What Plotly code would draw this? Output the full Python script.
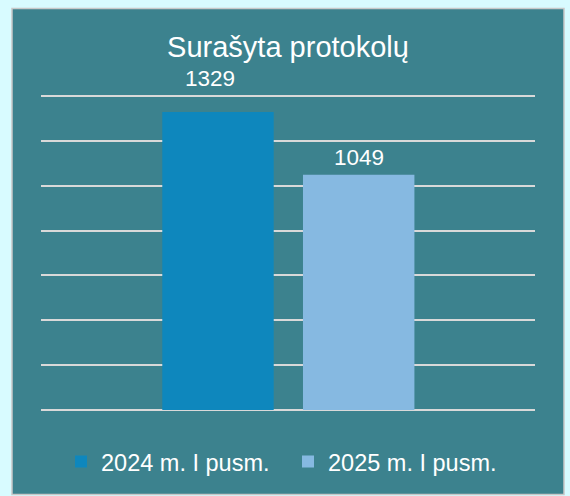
import plotly.graph_objects as go

categories = ["2024 m. I pusm.", "2025 m. I pusm."]
values = [1329, 1049]
colors = ["#0e87bd", "#86b9e1"]
title_text = "Surašyta protokolų"

W, H = 570, 496
L, R, T, B = 41, 35, 95, 83
pw, ph = W - L - R, H - T - B

fig = go.Figure()
for cat, val, col in zip(categories, values, colors):
    fig.add_trace(go.Bar(
        x=[cat], y=[val], name=cat, marker=dict(color=col, line=dict(width=0)),
        width=0.792, hoverinfo="skip",
    ))

label_shifts = [(-8, 19), (0, 3)]
for cat, val, (dx, dy) in zip(categories, values, label_shifts):
    fig.add_annotation(
        x=cat, y=val, text=str(val), showarrow=False, yanchor="bottom",
        xshift=dx, yshift=dy,
        font=dict(family="Liberation Sans, Arial, sans-serif", size=22.5, color="white"),
    )

# teal chart panel with thin grey frame
fig.add_shape(
    type="rect", xref="paper", yref="paper", layer="below",
    x0=(12 - L) / pw, x1=(564 - L) / pw,
    y0=(H - B - 497) / ph, y1=(H - B - 8) / ph,
    fillcolor="#3c828e", line=dict(color="#c8c8c8", width=1.5),
)

fig.update_layout(
    width=W, height=H,
    margin=dict(l=L, r=R, t=T, b=B, pad=0),
    paper_bgcolor="#d8fbff",
    plot_bgcolor="#3c828e",
    barmode="overlay",
    font=dict(family="Liberation Sans, Arial, sans-serif", color="white"),
    title=dict(
        text=title_text, x=0.5, xref="paper", xanchor="center",
        y=1 - 47.3 / H, yanchor="middle",
        font=dict(size=29, color="white"),
    ),
    xaxis=dict(
        type="category", categoryorder="array", categoryarray=categories,
        range=[-1.258, 2.253], showticklabels=False, showgrid=False,
        zeroline=False, showline=False, ticks="", fixedrange=True,
    ),
    yaxis=dict(
        range=[-5, 1405], dtick=200, tick0=0, showticklabels=False,
        showgrid=True, gridcolor="#d9d9d9", gridwidth=2,
        zeroline=False, showline=False, ticks="", fixedrange=True,
    ),
    legend=dict(
        orientation="h", x=0.5, xanchor="center", xref="paper",
        y=(H - B - 464) / ph, yanchor="middle", yref="paper",
        font=dict(size=23.5, color="white"),
        bgcolor="rgba(0,0,0,0)", itemwidth=30, traceorder="normal",
        entrywidth=182,
    ),
    showlegend=True,
)

fig.write_html(
    "out.html",
    config={"displayModeBar": False, "staticPlot": True},
    post_script="document.body.style.margin='0';document.body.style.background='#d8fbff';",
)
